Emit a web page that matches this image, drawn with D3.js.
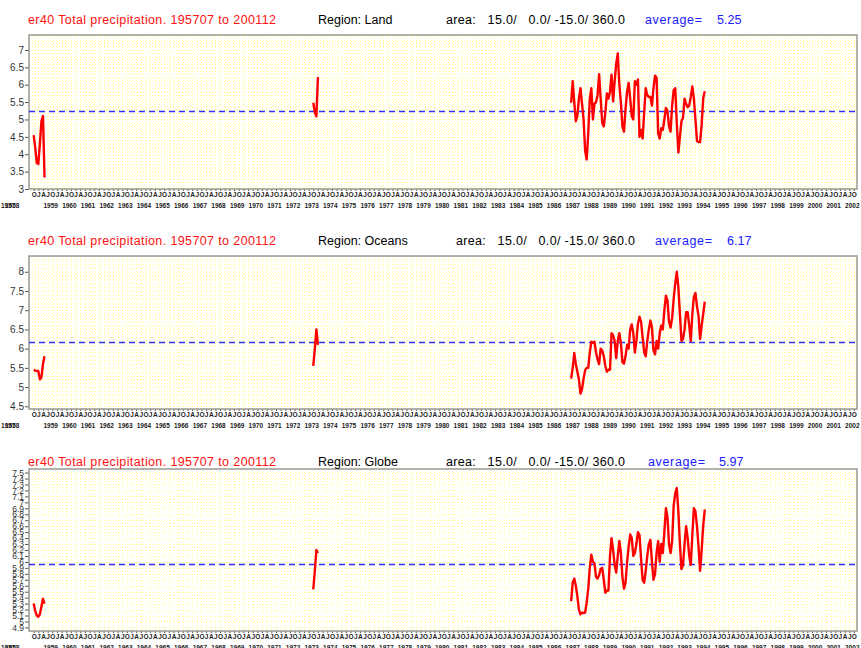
<!DOCTYPE html>
<html><head><meta charset="utf-8">
<script src="https://cdn.jsdelivr.net/npm/d3@7"></script>
<style>body{margin:0;background:#fff} svg{display:block} text{font-family:"Liberation Sans",Arial,sans-serif}</style>
</head><body><svg id="c" width="861" height="648"></svg>
<script>
// ---------- data ----------
const titleText = "er40 Total precipitation. 195707 to 200112";
const regions = ["Land", "Oceans", "Globe"];
const areaText = "area:   15.0/   0.0/ -15.0/ 360.0";
const averages = [5.25, 6.17, 5.97];
const averageLabels = ["5.25", "6.17", "5.97"];
const nMonths = 534; // 195707 .. 200112
const segStarts = [3, 183, 349]; // month index of first value of each data segment

const landSeg1 = [4.55, 4.2, 3.75, 3.72, 4.3, 4.95, 5.1, 3.33];
const landSeg2 = [5.48, 5.2, 5.09, 6.22];
const landSeg3 = [5.48, 6.1, 5.5, 4.95, 5.1, 5.6, 5.9, 5.45, 5.0, 4.1, 3.85, 4.6, 5.6, 5.9, 5.0, 5.45, 5.5, 5.7, 6.3, 5.6,
  4.9, 4.8, 5.2, 5.75, 5.6, 5.8, 6.29, 5.52, 6.1, 6.6, 6.9, 6.0, 5.5, 4.8, 4.65, 5.3, 5.8, 6.05, 5.6, 5.1,
  5.0, 6.1, 6.0, 6.15, 4.5, 4.7, 4.45, 5.2, 5.9, 5.7, 5.65, 5.65, 5.4, 5.9, 6.26, 6.2, 4.6, 4.45, 4.75, 4.7,
  5.0, 5.33, 5.25, 4.8, 4.65, 5.4, 5.85, 5.9, 4.9, 4.05, 4.5, 4.95, 5.05, 5.6, 5.45, 5.35, 5.4, 5.65, 5.95, 5.6,
  5.0, 4.38, 4.35, 4.35, 4.85, 5.6, 5.81];

const oceanSeg1 = [5.45, 5.43, 5.42, 5.42, 5.2, 5.25, 5.6, 5.8];
const oceanSeg2 = [5.55, 6.0, 6.5, 6.1];
const oceanSeg3 = [5.22, 5.5, 5.89, 5.6, 5.4, 5.2, 4.83, 4.95, 5.22, 5.44, 5.5, 5.5, 5.9, 6.18, 6.15, 6.18, 5.9, 5.72, 5.6, 6.0,
  5.95, 5.8, 5.55, 5.4, 5.45, 5.45, 6.4, 6.35, 6.2, 5.75, 6.2, 6.4, 6.15, 5.65, 5.61, 5.8, 6.1, 6.0, 6.5, 6.63,
  6.4, 5.9, 6.2, 6.65, 6.83, 6.7, 6.3, 5.9, 5.8, 6.2, 6.5, 6.73, 6.55, 5.95, 5.85, 6.2, 6.0, 6.4, 6.6, 6.5,
  7.0, 7.38, 7.25, 6.7, 6.55, 6.8, 7.3, 7.7, 8.0, 7.6, 6.9, 6.2, 6.25, 6.5, 6.95, 6.95, 6.6, 6.2, 6.9, 7.35,
  7.45, 7.1, 6.85, 6.25, 6.6, 6.9, 7.22];

const globeSeg1 = [5.3, 5.18, 5.1, 5.08, 5.12, 5.25, 5.38, 5.3];
const globeSeg2 = [5.54, 5.85, 6.2, 6.15];
const globeSeg3 = [5.34, 5.65, 5.72, 5.6, 5.42, 5.2, 5.12, 5.15, 5.14, 5.15, 5.32, 5.55, 5.9, 6.12, 6.0, 5.98, 5.75, 5.72, 5.78, 5.88,
  5.9, 5.7, 5.48, 5.52, 5.52, 6.1, 6.4, 6.2, 5.95, 5.82, 6.1, 6.35, 6.15, 5.75, 5.55, 5.65, 6.0, 6.25, 6.46, 6.4,
  6.1, 6.15, 6.3, 6.5, 6.45, 6.05, 5.7, 5.65, 5.85, 6.1, 6.3, 6.37, 6.0, 5.7, 5.8, 6.15, 6.35, 6.0, 6.3, 6.15,
  6.5, 6.9, 6.75, 6.3, 6.15, 6.35, 6.95, 7.15, 7.24, 6.85, 6.3, 5.88, 5.95, 6.3, 6.6, 6.4, 6.1, 5.95, 6.45, 6.9,
  6.85, 6.6, 6.25, 5.85, 6.2, 6.6, 6.88];

const yTicksLand = ["3", "3.5", "4", "4.5", "5", "5.5", "6", "6.5", "7"];
const yTicksOceans = ["4.5", "5", "5.5", "6", "6.5", "7", "7.5", "8"];
const yTicksGlobe = ["4.9", "5", "5.1", "5.2", "5.3", "5.4", "5.5", "5.6", "5.7", "5.8", "5.9", "6", "6.1", "6.2",
  "6.3", "6.4", "6.5", "6.6", "6.7", "6.8", "6.9", "7", "7.1", "7.2", "7.3", "7.4", "7.5"];
const yDomains = [[3, 7.43], [4.43, 8.41], [4.84, 7.56]];
const monthLetters = ["J", "A", "J", "O"]; // Jan Apr Jul Oct
const years = ["1957", "1958", "1959", "1960", "1961", "1962", "1963", "1964", "1965", "1966", "1967", "1968", "1969", "1970",
  "1971", "1972", "1973", "1974", "1975", "1976", "1977", "1978", "1979", "1980", "1981", "1982", "1983", "1984",
  "1985", "1986", "1987", "1988", "1989", "1990", "1991", "1992", "1993", "1994", "1995", "1996", "1997", "1998",
  "1999", "2000", "2001", "2002"];

// ---------- layout ----------
const panels = [
  {region: regions[0], segs: [landSeg1, landSeg2, landSeg3], ticks: yTicksLand, dom: yDomains[0], top: 35, bottom: 189, title: 24, areaX: 446, avgX: 645, valX: 717},
  {region: regions[1], segs: [oceanSeg1, oceanSeg2, oceanSeg3], ticks: yTicksOceans, dom: yDomains[1], top: 256, bottom: 409, title: 245, areaX: 456, avgX: 655, valX: 727},
  {region: regions[2], segs: [globeSeg1, globeSeg2, globeSeg3], ticks: yTicksGlobe, dom: yDomains[2], top: 469, bottom: 631, title: 466, areaX: 446, avgX: 648, valX: 719}
];
const L = 29, R = 857;
const svg = d3.select("#c");
const x = d3.scaleLinear().domain([0, nMonths - 1]).range([L, R]);
const snap = v => Math.round(v) + 0.5;

panels.forEach((p, pi) => {
  const g = svg.append("g");
  const y = d3.scaleLinear().domain(p.dom).range([p.bottom, p.top]);
  // dotted yellow grid
  const grid = g.append("g");
  const qMonths = d3.range(3, nMonths, 3);
  grid.selectAll("line.v").data(qMonths).join("line")
    .attr("x1", d => snap(x(d))).attr("x2", d => snap(x(d)))
    .attr("y1", p.top).attr("y2", p.bottom)
    .attr("stroke", "#ffff9c").attr("stroke-width", 1).attr("stroke-dasharray", "1,2");
  const hv = d3.range(Math.ceil(p.dom[0] * 10), Math.floor(p.dom[1] * 10) + 1).map(v => v / 10);
  grid.selectAll("line.h").data(hv).join("line")
    .attr("x1", L).attr("x2", R)
    .attr("y1", d => snap(y(d))).attr("y2", d => snap(y(d)))
    .attr("stroke", "#ffff9c").attr("stroke-width", 1).attr("stroke-dasharray", "1,2");

  // y axis
  const yAxis = d3.axisLeft(y).tickValues(p.ticks.map(Number)).tickSize(4)
    .tickFormat((d, i) => p.ticks[i]);
  const ya = g.append("g").attr("transform", `translate(${L},0)`).call(yAxis);
  ya.select(".domain").remove();
  ya.selectAll("line").attr("stroke", "#555");
  ya.selectAll("text").attr("fill", "#333").attr("font-size", pi === 2 ? 8.5 : 10)
    .attr("font-family", "Liberation Sans, Arial, sans-serif").attr("x", -5);

  // x axis (month letters)
  const qIdx = d3.range(3, nMonths, 3);
  const xa = g.append("g").attr("transform", `translate(0,${p.bottom})`)
    .call(d3.axisBottom(x).tickValues(qIdx).tickSize(2)
      .tickFormat(d => monthLetters[((d + 6) % 12) / 3]));
  xa.select(".domain").remove();
  xa.selectAll("line").attr("stroke", "#555");
  xa.selectAll("text").attr("font-size", 6.5).attr("fill", "#222").attr("y", 3.5)
    .attr("font-weight", "bold").attr("font-family", "Liberation Sans, Arial, sans-serif");
  // year labels
  g.append("g").selectAll("text").data(years).join("text")
    .attr("x", (d, i) => i === 0 ? 1 : (i === 1 ? 5 : x(i * 12 - 6) + 1))
    .attr("text-anchor", (d, i) => i < 2 ? "start" : "end")
    .attr("y", p.bottom + 18.5)
    .attr("font-size", 6.5).attr("font-weight", "bold").attr("fill", "#222").text(d => d);

  // frame
  g.append("rect").attr("x", L).attr("y", p.top).attr("width", R - L).attr("height", p.bottom - p.top)
    .attr("fill", "none").attr("stroke", "#9a9a90").attr("stroke-width", 1.5);

  // average line
  const ay = snap(y(averages[pi]));
  g.append("line").attr("x1", L).attr("x2", R).attr("y1", ay).attr("y2", ay)
    .attr("stroke", "#3030ff").attr("stroke-width", 1.4).attr("stroke-dasharray", "6,4");

  // data
  const line = d3.line().x(d => x(d[0])).y(d => y(d[1]));
  p.segs.forEach((s, si) => {
    const pts = s.map((v, k) => [segStarts[si] + k, v]);
    g.append("path").attr("d", line(pts)).attr("fill", "none")
      .attr("stroke", "#ff0000").attr("stroke-width", 2.4).attr("stroke-linejoin", "round");
  });

  // titles
  const t = g.append("g").attr("font-size", 12.5);
  t.append("text").attr("x", 28).attr("y", p.title).attr("fill", "#ff1010")
    .attr("textLength", 248).attr("lengthAdjust", "spacing").text(titleText);
  t.append("text").attr("x", 318).attr("y", p.title).attr("fill", "#000").text("Region: " + p.region);
  t.append("text").attr("x", p.areaX).attr("y", p.title).attr("fill", "#000")
    .style("white-space", "pre").attr("textLength", 179).attr("lengthAdjust", "spacing").text(areaText);
  t.append("text").attr("x", p.avgX).attr("y", p.title).attr("fill", "#2020ff")
    .attr("textLength", 57).attr("lengthAdjust", "spacing").text("average=");
  t.append("text").attr("x", p.valX).attr("y", p.title).attr("fill", "#2020ff").text(averageLabels[pi]);
});
</script></body></html>
